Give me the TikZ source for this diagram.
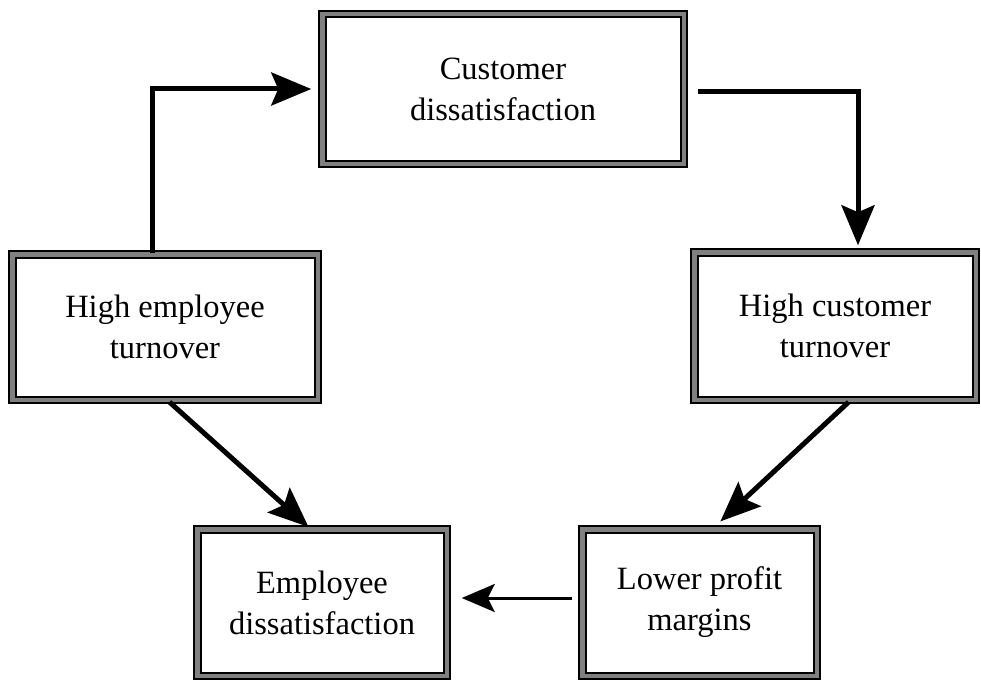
\documentclass[tikz,border=0pt]{standalone}
\usepackage{fontspec}
\setmainfont{Liberation Serif}
\usetikzlibrary{arrows.meta}
\begin{document}
\begin{tikzpicture}[x=1pt,y=-1pt,
  box/.style={draw=black, line width=2pt, double=black!50, double distance=4.5pt,
    fill=white, align=center, inner sep=0pt,
    font=\fontsize{32.5}{41}\selectfont},
  thickarrow/.style={line width=5pt,
    -{Stealth[length=40pt,width=33pt,inset=7pt]}},
  thinarrow/.style={line width=3pt,
    -{Stealth[length=33pt,width=28pt,inset=7pt]}}]
\useasboundingbox (0,0) rectangle (981,682);

% boxes of the cycle
\node[box, minimum width=361.5pt, minimum height=149.5pt] (cd)  at (503,89)
  {Customer\\dissatisfaction};
\node[box, minimum width=305.5pt, minimum height=145.5pt] (het) at (165,327)
  {High employee\\turnover};
\node[box, minimum width=281.5pt, minimum height=147.5pt] (hct) at (835,326)
  {High customer\\turnover};
\node[box, minimum width=249.5pt, minimum height=146.5pt] (ed)  at (322,602.5)
  {Employee\\dissatisfaction};
\node[box, minimum width=234.5pt, minimum height=146.5pt] (lpm) at (699.5,602.5)
  {Lower profit\\margins};

% connectors
\draw[thickarrow, shorten >=10pt] ([xshift=-13pt]het.north) |- (cd.west);
\draw[thickarrow, shorten <=13pt, shorten >=6pt]
  ([yshift=-3pt]cd.east) -| ([xshift=23pt]hct.north);
\draw[thickarrow, shorten <=2pt, shorten >=10pt]
  ([xshift=15pt]hct.south) -- ([xshift=13.5pt]lpm.north);
\draw[thickarrow, shorten <=2pt, shorten >=2pt]
  ([xshift=3pt]het.south) -- ([xshift=-12pt]ed.north);
\draw[thinarrow, shorten <=9pt, shorten >=14pt]
  ([yshift=4.5pt]lpm.west) -- ([yshift=4.5pt]ed.east);
\end{tikzpicture}
\end{document}
